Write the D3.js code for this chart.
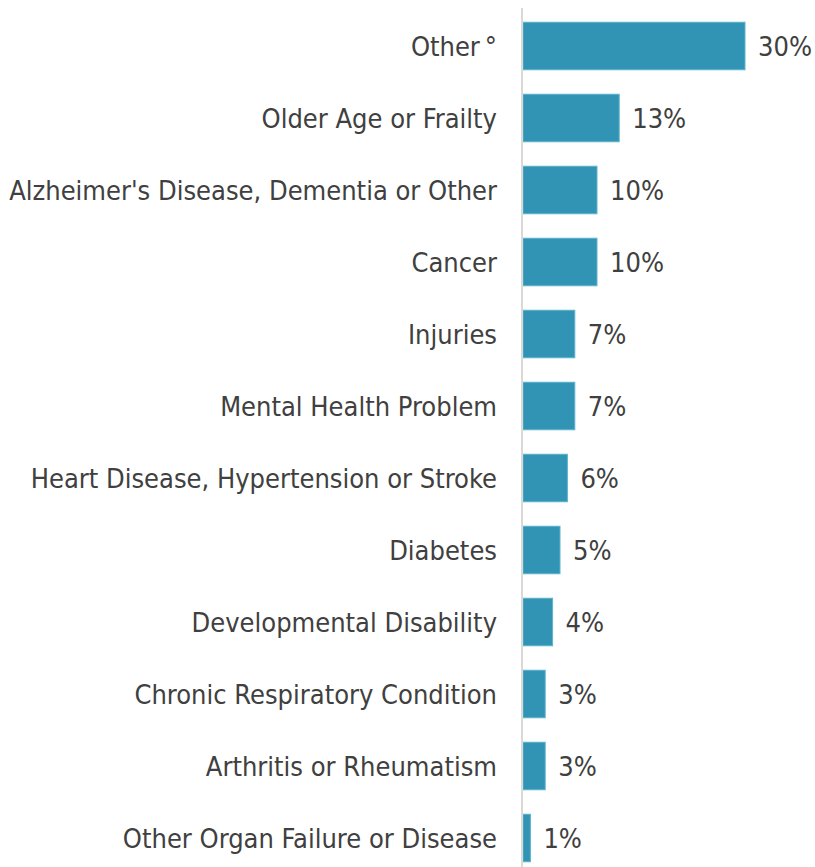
<!DOCTYPE html>
<html>
<head>
<meta charset="utf-8">
<script src="https://d3js.org/d3.v7.min.js"></script>
<style>
  body { margin: 0; background: #fff; }
  text { font-family: "DejaVu Sans Condensed", "Liberation Sans Narrow", sans-serif; fill: #404040; }
</style>
</head>
<body>
<div id="chart"></div>
<script>
  // categories, top to bottom
  var categories = [
    "Other\u00b0",
    "Older Age or Frailty",
    "Alzheimer's Disease, Dementia or Other",
    "Cancer",
    "Injuries",
    "Mental Health Problem",
    "Heart Disease, Hypertension or Stroke",
    "Diabetes",
    "Developmental Disability",
    "Chronic Respiratory Condition",
    "Arthritis or Rheumatism",
    "Other Organ Failure or Disease"
  ];
  var values = [30, 13, 10, 10, 7, 7, 6, 5, 4, 3, 3, 1];

  var width = 815, height = 867;
  var left = 523;

  var svg = d3.select('#chart').append('svg')
      .attr('width', width)
      .attr('height', height);

  var x = d3.scaleLinear().domain([0, 30]).range([left, 745]);
  var y = d3.scaleBand().domain(categories).range([10, 874]).paddingInner(0.34).paddingOuter(0.17);

  // bars
  svg.selectAll('rect.bar')
      .data(values)
      .enter().append('rect')
      .attr('class', 'bar')
      .attr('x', x(0))
      .attr('y', function(d, i){ return y(categories[i]); })
      .attr('width', function(d){ return x(d) - x(0); })
      .attr('height', y.bandwidth())
      .style('fill', '#3194b4')
      .style('stroke', '#5fb3cc')
      .style('stroke-width', 1);

  // axis line
  svg.append('line')
      .attr('x1', left - 1).attr('x2', left - 1)
      .attr('y1', 8).attr('y2', height)
      .style('stroke', '#d9d9d9')
      .style('stroke-width', 2);

  // category labels (degree sign set a little apart, as in the source)
  svg.selectAll('text.cat')
      .data(categories)
      .enter().append('text')
      .attr('class', 'cat')
      .attr('x', 497)
      .attr('y', function(d){ return y(d) + y.bandwidth() / 2; })
      .attr('dy', '0.36em')
      .attr('text-anchor', 'end')
      .style('font-size', '27px')
      .each(function(d){
        var t = d3.select(this);
        if (d.slice(-1) === '\u00b0') {
          t.append('tspan').text(d.slice(0, -1));
          t.append('tspan').attr('dx', 5).text('\u00b0');
        } else {
          t.text(d);
        }
      });

  // value labels
  svg.selectAll('text.val')
      .data(values)
      .enter().append('text')
      .attr('class', 'val')
      .attr('x', function(d){ return x(d) + 13; })
      .attr('y', function(d, i){ return y(categories[i]) + y.bandwidth() / 2; })
      .attr('dy', '0.36em')
      .style('font-size', '27px')
      .text(function(d){ return d + '%'; });
</script>
</body>
</html>
